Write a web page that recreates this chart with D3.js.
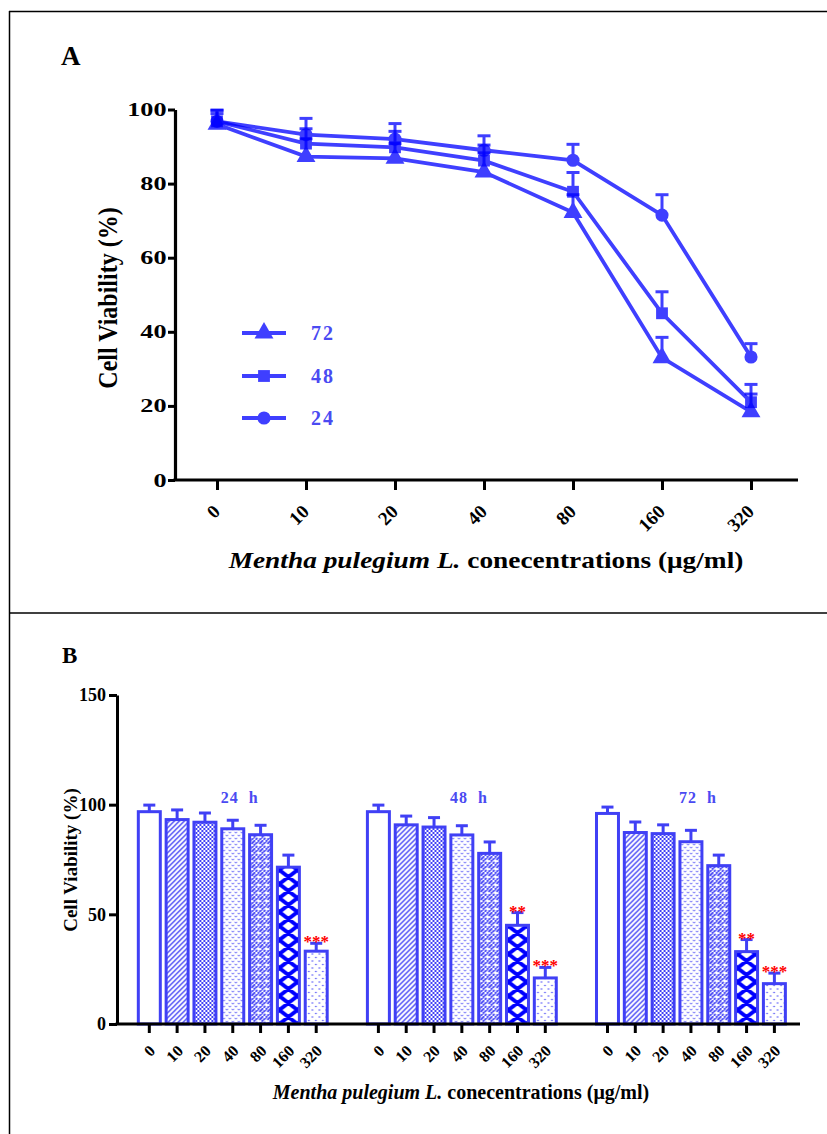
<!DOCTYPE html>
<html><head><meta charset="utf-8">
<script src="https://cdn.jsdelivr.net/npm/d3@7"></script>
<style>body{margin:0;background:#fff}svg{display:block}</style>
</head><body><div id="chart"></div>
<script>
// ---------- data ----------
const concentrations = ["0","10","20","40","80","160","320"];
const times = ["24","48","72"];
const v24 = [96.8, 93.2, 92.0, 89.0, 86.3, 71.5, 33.2];
const e24 = [3.0, 4.4, 4.2, 3.9, 4.3, 5.5, 3.6];
const v48 = [96.8, 90.8, 89.8, 86.2, 77.8, 45.0, 21.0];
const e48 = [3.0, 4.0, 4.3, 4.2, 5.2, 5.8, 4.8];
const v72 = [96.0, 87.3, 86.8, 83.1, 72.2, 33.0, 18.4];
const e72 = [2.9, 4.8, 4.0, 5.2, 4.8, 5.5, 4.8];
const sig24 = ["","","","","","","***"];
const sig48 = ["","","","","","**","***"];
const sig72 = ["","","","","","**","***"];
const yTicksA = [0,20,40,60,80,100];
const yTicksB = [0,50,100,150];
const legendOrder = ["72","48","24"];

const seriesA = {"24":{v:v24,e:e24,shape:d3.symbolCircle},
                 "48":{v:v48,e:e48,shape:d3.symbolSquare},
                 "72":{v:v72,e:e72,shape:d3.symbolTriangle}};
const groupsB = [{t:"24",v:v24,e:e24,s:sig24},{t:"48",v:v48,e:e48,s:sig48},{t:"72",v:v72,e:e72,s:sig72}];

// ---------- setup ----------
const W=827,H=1134;
const BLUE="#0000ff", BLUE2="#4040f5", TXTBLUE="#4a4af2";
const FONT="'Liberation Serif','Times New Roman',serif";
const svg=d3.select("#chart").append("svg").attr("width",W).attr("height",H)
  .style("font-family",FONT);
svg.append("rect").attr("width",W).attr("height",H).attr("fill","#fff");

// frame
svg.append("line").attr("x1",9).attr("x2",W).attr("y1",11.5).attr("y2",11.5).attr("stroke","#000").attr("stroke-width",1.5);
svg.append("line").attr("x1",9).attr("x2",W).attr("y1",613).attr("y2",613).attr("stroke","#000").attr("stroke-width",1.5);
svg.append("line").attr("x1",9.5).attr("x2",9.5).attr("y1",11).attr("y2",H).attr("stroke","#000").attr("stroke-width",1.5);

// ---------- Panel A ----------
svg.append("text").attr("x",61).attr("y",65).attr("font-size",27).attr("font-weight","bold").text("A");

const yA=d3.scaleLinear().domain([0,100]).range([480,109.5]);
const xA=d3.scalePoint().domain(concentrations).range([217,751]);

const gYA=svg.append("g").attr("transform","translate(175,0)")
  .call(d3.axisLeft(yA).tickValues(yTicksA).tickSize(7).tickSizeOuter(0).tickPadding(2));
gYA.select(".domain").attr("stroke-width",3.2);
gYA.selectAll(".tick line").attr("stroke-width",3);
gYA.selectAll("text").attr("font-size",19).attr("font-weight","bold").attr("font-family",FONT).attr("fill","#000")
  .attr("x",0).attr("transform","translate(-8.5,0) scale(1.38,1)");

const gXA=svg.append("g").attr("transform","translate(0,480)")
  .call(d3.axisBottom(xA).tickSize(10).tickSizeOuter(0));
gXA.select(".domain").remove();
gXA.selectAll(".tick line").attr("stroke-width",3);
gXA.selectAll("text").attr("font-size",19).attr("font-weight","bold").attr("font-family",FONT).attr("fill","#000")
  .attr("x",0).attr("y",0).attr("dy","0.35em").attr("text-anchor","end")
  .attr("transform","translate(-1,28) rotate(-45)");
svg.append("line").attr("x1",173.4).attr("x2",798).attr("y1",480).attr("y2",480).attr("stroke","#000").attr("stroke-width",3.2);

svg.append("text").attr("transform","translate(117,298) scale(1.1,1) rotate(-90)").attr("text-anchor","middle")
  .attr("font-size",24).attr("font-weight","bold").text("Cell Viability (%)");
const xtA=svg.append("text").attr("transform","translate(486,568) scale(1.19,1)").attr("text-anchor","middle").attr("font-size",23).attr("font-weight","bold");
xtA.append("tspan").attr("font-style","italic").text("Mentha pulegium L.");
xtA.append("tspan").text(" conecentrations (μg/ml)");

const line=d3.line().x((d,i)=>xA(concentrations[i])).y(d=>yA(d));
const gA=svg.append("g");
const symSize={"72":155,"48":140,"24":135};
["72","48","24"].forEach(k=>{
  const s=seriesA[k];
  const g=gA.append("g").attr("opacity",0.75);
  g.append("path").datum(s.v).attr("d",line).attr("fill","none").attr("stroke",BLUE).attr("stroke-width",3.8);
  s.v.forEach((v,i)=>{
    const x=xA(concentrations[i]);
    g.append("line").attr("x1",x).attr("x2",x).attr("y1",yA(v)).attr("y2",yA(v+s.e[i])).attr("stroke",BLUE).attr("stroke-width",3);
    g.append("line").attr("x1",x-6.5).attr("x2",x+6.5).attr("y1",yA(v+s.e[i])).attr("y2",yA(v+s.e[i])).attr("stroke",BLUE).attr("stroke-width",3);
  });
  g.selectAll(".m").data(s.v).enter().append("path")
    .attr("d",d3.symbol().type(s.shape).size(symSize[k]))
    .attr("transform",(d,i)=>`translate(${xA(concentrations[i])},${yA(d)})`)
    .attr("fill",BLUE);
});

// legend
const legY={"72":333,"48":376,"24":418};
legendOrder.forEach(k=>{
  const g=svg.append("g").attr("opacity",0.75);
  g.append("line").attr("x1",242).attr("x2",286).attr("y1",legY[k]).attr("y2",legY[k]).attr("stroke",BLUE).attr("stroke-width",3.8);
  g.append("path").attr("d",d3.symbol().type(seriesA[k].shape).size(symSize[k]))
    .attr("transform",`translate(264,${legY[k]})`).attr("fill",BLUE);
  svg.append("text").attr("x",311).attr("y",legY[k]).attr("dy","0.36em").attr("font-size",20).attr("font-weight","bold")
    .attr("letter-spacing",2).attr("fill",TXTBLUE).text(k);
});

// ---------- Panel B ----------
svg.append("text").attr("x",62).attr("y",663).attr("font-size",23).attr("font-weight","bold").text("B");

const yB=d3.scaleLinear().domain([0,150]).range([1024,695]);
const xG=d3.scaleBand().domain(times).range([135.4,788.3]).paddingInner(0.15).paddingOuter(0);
const xC=d3.scaleBand().domain(concentrations).range([0,xG.bandwidth()]).paddingInner(0.21).paddingOuter(0.105);

// patterns
const defs=svg.append("defs");
function pat(id,w,h){return defs.append("pattern").attr("id",id).attr("patternUnits","userSpaceOnUse").attr("width",w).attr("height",h);}
let p;
p=pat("p1",5,5); p.append("path").attr("d","M-1,1 L1,-1 M0,5 L5,0 M4,6 L6,4").attr("stroke",BLUE2).attr("stroke-width",1.3);
p=pat("p2",4,4); p.append("rect").attr("width",2).attr("height",2).attr("fill",BLUE2); p.append("rect").attr("x",2).attr("y",2).attr("width",2).attr("height",2).attr("fill",BLUE2);
p=pat("p3",6,6); p.append("path").attr("d","M0.5,0.8 L1.5,2.2 L2.5,0.8 M3.5,3.8 L4.5,5.2 L5.5,3.8").attr("stroke",BLUE2).attr("stroke-width",0.9).attr("fill","none");
p=pat("p4",8,8); p.append("path").attr("d","M0,4 L4,0 M4,8 L8,4 M4,4 L8,0 M0,8 L2,6").attr("stroke",BLUE2).attr("stroke-width",1.8);
p.append("path").attr("d","M4.5,4.5 L6,6 M0.5,0.5 L2,2").attr("stroke","#fff").attr("stroke-width",1.2);
const c160=xC("160")+xC.bandwidth()/2;
p=pat("p5",18,14).attr("x",c160-9).attr("y",2);
p.append("path").attr("d","M0,0 L18,14 M18,0 L0,14 M-9,7 L0,14 M18,14 L27,7 M-9,7 L0,0 M18,0 L27,7").attr("stroke",BLUE).attr("stroke-width",3.8);
p=pat("p6",7,7); p.append("circle").attr("cx",2).attr("cy",2).attr("r",0.8).attr("fill",BLUE2); p.append("circle").attr("cx",5.5).attr("cy",5.5).attr("r",0.8).attr("fill",BLUE2);
const fills=["#fff","url(#p1)","url(#p2)","url(#p3)","url(#p4)","url(#p5)","url(#p6)"];

const gYB=svg.append("g").attr("transform","translate(117,0)")
  .call(d3.axisLeft(yB).tickValues(yTicksB).tickSize(8).tickSizeOuter(0).tickPadding(3));
gYB.select(".domain").attr("stroke-width",3);
gYB.selectAll(".tick line").attr("stroke-width",3);
gYB.selectAll("text").attr("font-size",18).attr("font-weight","bold").attr("font-family",FONT).attr("fill","#000");

groupsB.forEach(gr=>{
  const gx=xG(gr.t);
  const g=svg.append("g").attr("transform",`translate(${gx},0)`);
  g.selectAll("rect").data(gr.v).enter().append("rect")
    .attr("x",(d,i)=>xC(concentrations[i])).attr("width",xC.bandwidth())
    .attr("y",d=>yB(d)).attr("height",d=>1024-yB(d))
    .attr("fill",(d,i)=>fills[i]).attr("stroke",BLUE2).attr("stroke-width",3);
  gr.v.forEach((v,i)=>{
    const x=xC(concentrations[i])+xC.bandwidth()/2;
    const top=yB(v+gr.e[i]);
    g.append("line").attr("x1",x).attr("x2",x).attr("y1",yB(v)).attr("y2",top).attr("stroke",BLUE2).attr("stroke-width",3);
    g.append("line").attr("x1",x-6).attr("x2",x+6).attr("y1",top).attr("y2",top).attr("stroke",BLUE2).attr("stroke-width",3);
    if(gr.s[i]) g.append("text").attr("x",x).attr("y",top+4).attr("text-anchor","middle").attr("font-size",17)
      .attr("font-weight","bold").attr("fill","#ff0000").text(gr.s[i]);
  });
  g.append("text").attr("x",xG.bandwidth()/2+7).attr("y",803).attr("text-anchor","middle").attr("font-size",16)
    .attr("font-weight","bold").attr("fill",TXTBLUE).attr("letter-spacing",1).attr("word-spacing",5).text(gr.t+" h");
  const ax=g.append("g").attr("transform","translate(0,1024)").call(d3.axisBottom(xC).tickSize(9).tickSizeOuter(0));
  ax.select(".domain").remove();
  ax.selectAll(".tick line").attr("stroke-width",3);
  ax.selectAll("text").attr("font-size",16).attr("font-weight","bold").attr("font-family",FONT).attr("fill","#000")
    .attr("x",0).attr("y",0).attr("dy","0.35em").attr("text-anchor","end")
    .attr("transform","translate(3,24) rotate(-45)");
});
svg.append("line").attr("x1",115.5).attr("x2",800).attr("y1",1024).attr("y2",1024).attr("stroke","#000").attr("stroke-width",3);

svg.append("text").attr("transform","translate(77,860) rotate(-90)").attr("text-anchor","middle")
  .attr("font-size",19).attr("font-weight","bold").text("Cell Viability (%)");
const xtB=svg.append("text").attr("x",461).attr("y",1099).attr("text-anchor","middle").attr("font-size",20).attr("font-weight","bold");
xtB.append("tspan").attr("font-style","italic").text("Mentha pulegium L.");
xtB.append("tspan").text(" conecentrations (μg/ml)");
</script></body></html>
